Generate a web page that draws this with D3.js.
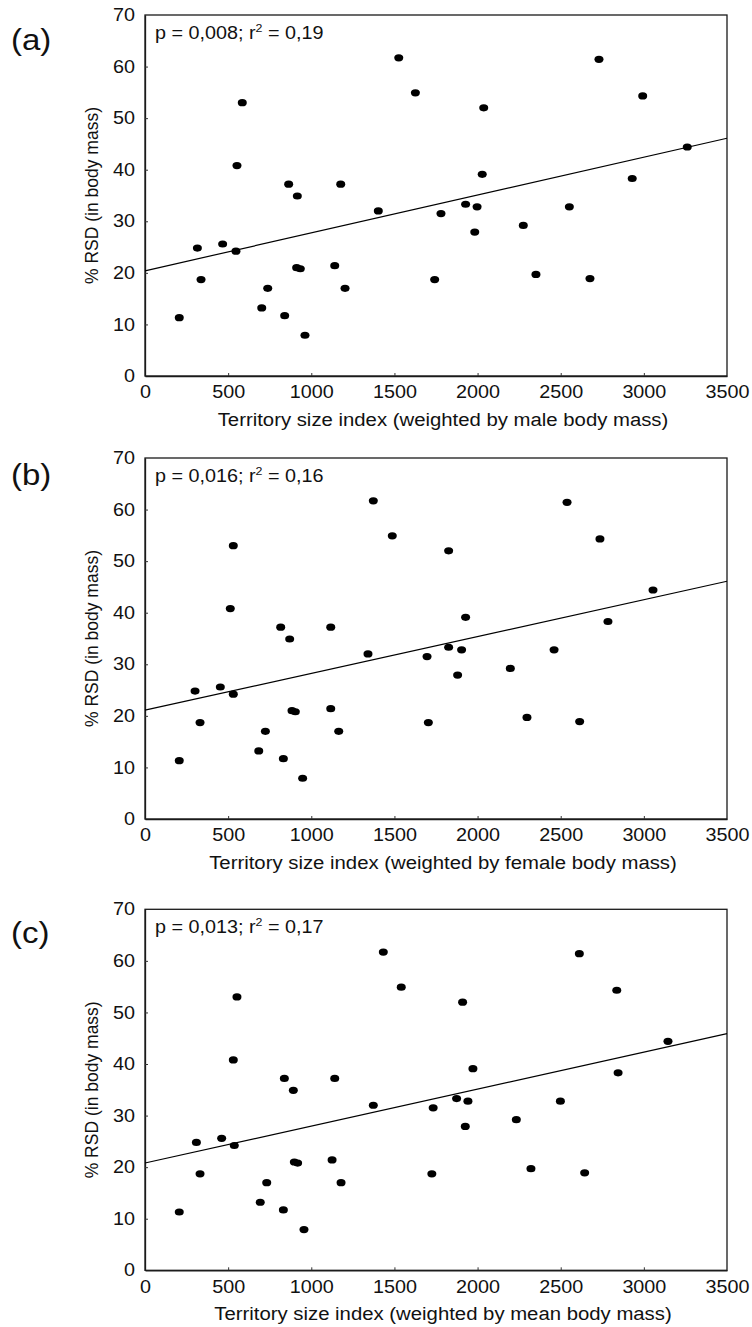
<!DOCTYPE html>
<html>
<head>
<meta charset="utf-8">
<script src="https://cdn.jsdelivr.net/npm/d3@7"></script>
<style>
  body { margin: 0; background: #fff; }
  svg text { font-family: "Liberation Sans", Arial, sans-serif; fill: #111; }
</style>
</head>
<body>
<svg id="chart" width="752" height="1327"></svg>
<script>
// % RSD in body mass, same species in every panel
const rsd = [11.3, 24.8, 18.7, 25.6, 24.2, 40.8, 53.0, 13.2, 17.0, 11.7,
             37.2, 34.9, 21.0, 20.8, 7.9, 21.4, 37.2, 17.0, 32.0, 61.7,
             54.9, 18.7, 31.5, 52.0, 33.3, 32.8, 39.1, 27.9, 29.2, 32.8,
             19.7, 18.9, 61.4, 54.3, 44.4, 38.3];

// territory size index, weighted by male / female / mean body mass
const sizeMale = [206, 315, 337, 467, 547, 553, 585, 702, 738, 840,
                  864, 916, 912, 934, 962, 1141, 1177, 1203, 1403, 1526,
                  1626, 1742, 1780, 2037, 1928, 1997, 2028, 1983, 2275, 2552,
                  2351, 2676, 2730, 2993, 3261, 2930];
const sizeFemale = [206, 301, 331, 453, 531, 513, 531, 684, 724, 832,
                    816, 870, 884, 904, 948, 1117, 1117, 1165, 1341, 1373,
                    1487, 1704, 1696, 1826, 1826, 1904, 1928, 1880, 2197, 2460,
                    2297, 2614, 2538, 2736, 3055, 2784];
const sizeMean = [206, 309, 331, 461, 537, 531, 553, 693, 732, 832,
                  838, 892, 898, 918, 956, 1125, 1141, 1179, 1373, 1433,
                  1541, 1725, 1733, 1910, 1874, 1942, 1972, 1926, 2233, 2498,
                  2321, 2644, 2612, 2837, 3145, 2845];

// fitted line: value at x = 0 and at x = 3500
const fitStart = [20.4, 21.1, 20.8];
const fitEnd = [46.1, 46.1, 45.9];

const panelLetters = ['(a)', '(b)', '(c)'];
const pValues = ['0,008', '0,016', '0,013'];
const r2Values = ['0,19', '0,16', '0,17'];
const xTitles = [
    'Territory size index (weighted by male body mass)',
    'Territory size index (weighted by female body mass)',
    'Territory size index (weighted by mean body mass)'
];
const yTitle = '% RSD (in body mass)';
const xTicks = [0, 500, 1000, 1500, 2000, 2500, 3000, 3500];
const yTicks = [0, 10, 20, 30, 40, 50, 60, 70];

const xSeries = [sizeMale, sizeFemale, sizeMean];

const svg = d3.select('#chart');
const left = 145, plotW = 582, plotH = 361;
const tops = [15, 458, 909.3];
const letterY = [50, 485, 943];
const stretch = 'scale(1.13,1)';

const x = d3.scaleLinear().domain([0, 3500]).range([0, plotW]);
const y = d3.scaleLinear().domain([0, 70]).range([plotH, 0]);

for (let p = 0; p < 3; p++) {
    const g = svg.append('g').attr('transform', `translate(${left},${tops[p]})`);

    // frame
    g.append('rect')
        .attr('width', plotW).attr('height', plotH)
        .attr('fill', 'none').attr('stroke', '#1a1a1a').attr('stroke-width', 1.3);

    const xAxis = g.append('g').attr('transform', `translate(0,${plotH})`)
        .call(d3.axisBottom(x).tickValues(xTicks).tickFormat(d3.format('d'))
            .tickSizeInner(-3).tickSizeOuter(0).tickPadding(10));
    const yAxis = g.append('g')
        .call(d3.axisLeft(y).tickValues(yTicks).tickFormat(d3.format('d'))
            .tickSizeInner(-3).tickSizeOuter(0).tickPadding(8.8));

    [xAxis, yAxis].forEach(ax => {
        ax.select('.domain').attr('stroke', '#1a1a1a').attr('stroke-width', 1.3);
        ax.selectAll('.tick line').attr('stroke', '#333');
        ax.selectAll('.tick text')
            .attr('font-size', 17.5)
            .attr('font-family', '"Liberation Sans", Arial, sans-serif')
            .attr('fill', '#111')
            .attr('transform', stretch);
    });
    xAxis.selectAll('.tick').filter(d => d === 0 || d === 3500).select('line').remove();
    yAxis.selectAll('.tick').filter(d => d === 0 || d === 70).select('line').remove();

    // regression line
    g.append('line')
        .attr('x1', x(0)).attr('y1', y(fitStart[p]))
        .attr('x2', x(3500)).attr('y2', y(fitEnd[p]))
        .attr('stroke', '#000').attr('stroke-width', 1.2);

    // points
    g.selectAll('ellipse.pt')
        .data(d3.range(rsd.length))
        .join('ellipse')
        .attr('class', 'pt')
        .attr('cx', i => x(xSeries[p][i]))
        .attr('cy', i => y(rsd[i]))
        .attr('rx', 4.5).attr('ry', 3.6)
        .attr('fill', '#000');

    // stats text
    const t = g.append('text')
        .attr('transform', `translate(10,24) ${stretch}`)
        .attr('font-size', 17.5);
    t.append('tspan').text(`p = ${pValues[p]}; r`);
    t.append('tspan').attr('font-size', 11).attr('dy', -7).text('2');
    t.append('tspan').attr('dy', 7).text(` = ${r2Values[p]}`);

    // axis titles
    g.append('text')
        .attr('transform', `translate(${plotW / 2 + 7},${plotH + 50}) ${stretch}`)
        .attr('text-anchor', 'middle')
        .attr('font-size', 18)
        .text(xTitles[p]);

    g.append('text')
        .attr('transform', `translate(-47,${plotH / 2}) rotate(-90)`)
        .attr('text-anchor', 'middle')
        .attr('font-size', 17.5)
        .text(yTitle);

    // panel letter
    svg.append('text')
        .attr('transform', `translate(11,${letterY[p]}) scale(1.1,1)`)
        .attr('font-family', 'Lato, "Open Sans", sans-serif')
        .attr('font-size', 30)
        .text(panelLetters[p]);
}
</script>
</body>
</html>
